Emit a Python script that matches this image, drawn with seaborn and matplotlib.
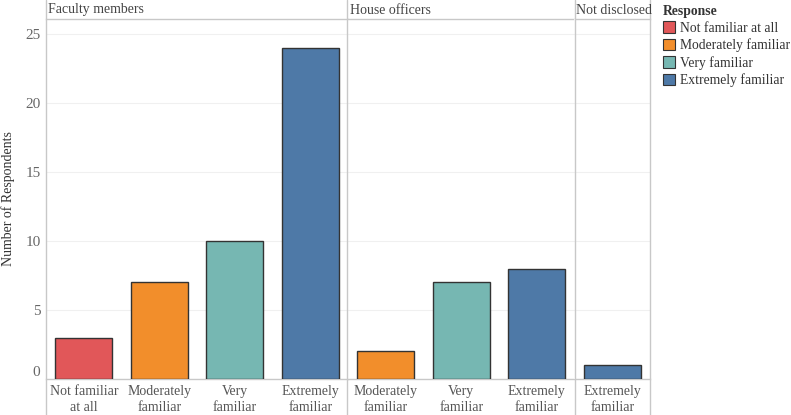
import matplotlib
matplotlib.use("Agg")
import matplotlib.pyplot as plt
import matplotlib.patches as mpatches
from matplotlib.lines import Line2D
import pandas as pd
import seaborn as sns

# data
groups = ["Faculty members", "House officers", "Not disclosed"]
responses = ["Not familiar at all", "Moderately familiar", "Very familiar", "Extremely familiar"]
tick_labels = ["Not familiar\nat all", "Moderately\nfamiliar", "Very\nfamiliar", "Extremely\nfamiliar"]
faculty_responses = responses
faculty_counts = [3, 7, 10, 24]
house_responses = responses[1:]
house_counts = [2, 7, 8]
undisclosed_responses = responses[3:]
undisclosed_counts = [1]
colors = ["#E15759", "#F28E2B", "#76B7B2", "#4E79A7"]

rows = []
for g, resp, cnt in zip(groups,
                        [faculty_responses, house_responses, undisclosed_responses],
                        [faculty_counts, house_counts, undisclosed_counts]):
    for r, c in zip(resp, cnt):
        rows.append({"Group": g, "Response": r, "Count": c})
df = pd.DataFrame(rows)

sns.set_theme(style="white")
plt.rcParams["font.family"] = ["Liberation Serif", "DejaVu Serif"]

palette = dict(zip(responses, colors))
label_map = dict(zip(responses, tick_labels))
W, H = 791, 415
fig, axes = plt.subplots(1, 3, figsize=(W / 100, H / 100), dpi=100, sharey=True,
                         gridspec_kw={"width_ratios": [4, 3, 1], "wspace": 0})
fig.subplots_adjust(left=46 / W, right=650 / W, bottom=1 - 379 / H, top=1 - 19 / H)

line_col = "#c8c8c8"
for ax, g in zip(axes, groups):
    sub = df[df["Group"] == g]
    order = list(sub["Response"])
    sns.barplot(data=sub, x="Response", y="Count", hue="Response", order=order,
                hue_order=order, palette=palette, width=0.76, edgecolor="#333333",
                linewidth=1, saturation=1, legend=False, ax=ax, zorder=3)
    ax.set_ylim(0, 26.1)
    ax.set_yticks([0, 5, 10, 15, 20, 25])
    ax.set_xticks(range(len(order)))
    ax.set_xticklabels([label_map[o] for o in order], fontsize=10, color="#555555",
                       linespacing=1.35)
    ax.set_xlabel("")
    ax.set_ylabel("")
    ax.yaxis.grid(True, color="#f0f0f0", linewidth=0.8, zorder=0)
    ax.tick_params(axis="both", length=0)
    ax.tick_params(axis="x", pad=4)
    ax.tick_params(axis="y", pad=4, labelsize=11, labelcolor="#666666")
    for s in ["left", "right"]:
        ax.spines[s].set_visible(False)
    ax.spines["top"].set_color(line_col)
    ax.spines["bottom"].set_color(line_col)
    ax.spines["top"].set_linewidth(1)
    ax.spines["bottom"].set_linewidth(1)
    ax.set_xlim(-0.5, len(order) - 0.5)
    pos = ax.get_position()
    fig.text(pos.x0 + 2 / W, 1 - 10 / H, g, fontsize=10, color="#444444",
             va="center", ha="left")

# lift the "0" label above the baseline, as in the original
fig.canvas.draw()
axes[0].get_yticklabels()[0].set_verticalalignment("bottom")

# panel separators spanning the whole height
for x in [46, 347, 575, 650]:
    fig.add_artist(Line2D([x / W, x / W], [0, 1], transform=fig.transFigure,
                          color=line_col, linewidth=1))

fig.text(8 / W, (1 - 199 / H), "Number of Respondents", rotation=90, fontsize=10,
         color="#333333", va="center", ha="center")

handles = [mpatches.Patch(facecolor=c, edgecolor="#333333", linewidth=0.8) for c in colors]
leg = fig.legend(handles, responses, loc="upper left", bbox_to_anchor=(660 / W, 1 - 2 / H),
                 frameon=False, fontsize=9.8, title="Response", alignment="left",
                 handlelength=0.9, handleheight=0.9, handletextpad=0.4,
                 labelspacing=0.27, borderaxespad=0, borderpad=0.2)
leg.get_title().set_fontweight("bold")
leg.get_title().set_fontsize(9.8)
leg.get_title().set_color("#333333")
for t in leg.get_texts():
    t.set_color("#333333")

fig.savefig("out.png", dpi=100)
